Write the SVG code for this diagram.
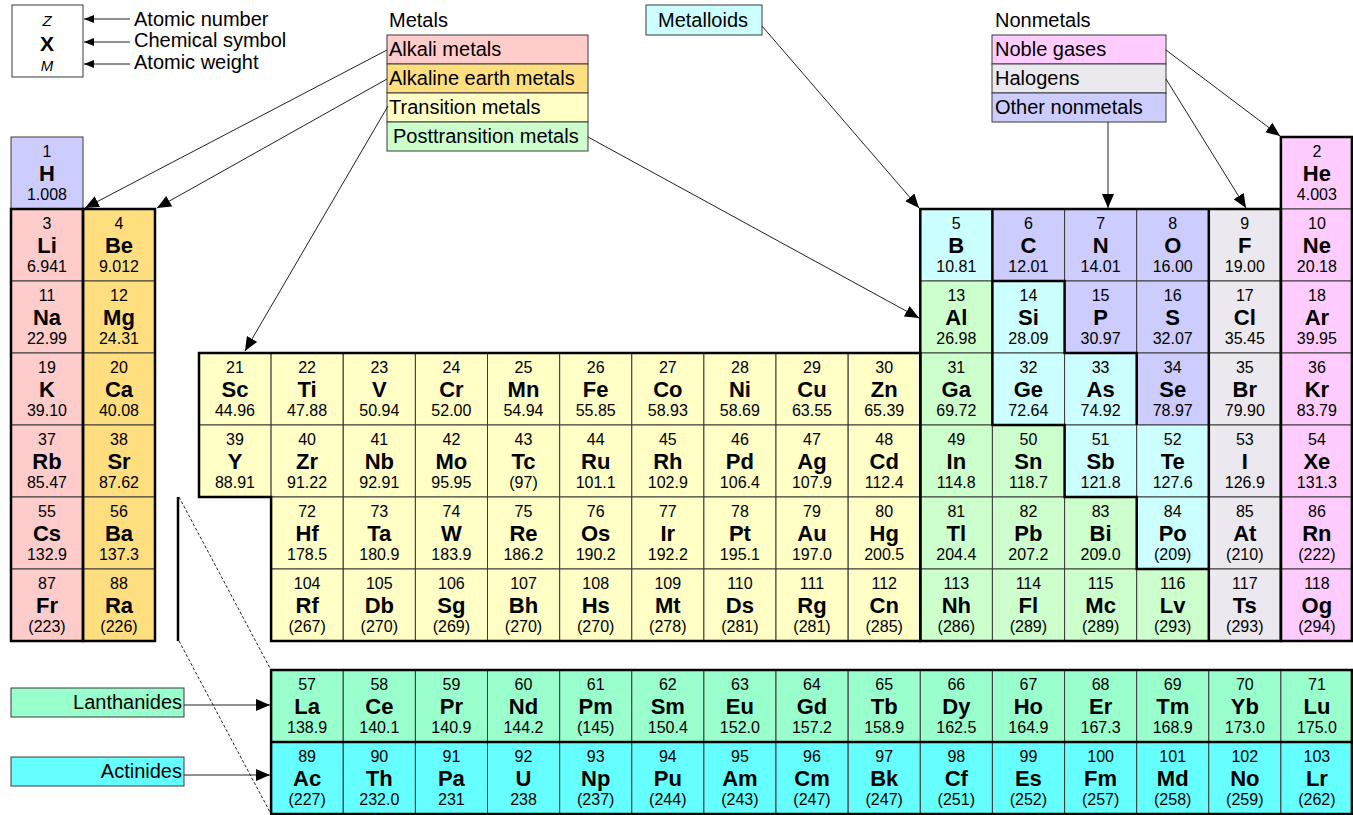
<svg xmlns="http://www.w3.org/2000/svg" width="1353" height="815" viewBox="0 0 1353 815">
<defs>
<style>
text{font-family:"Liberation Sans",Arial,sans-serif;fill:#000}
.cell rect{stroke:#3a3a3a;stroke-width:1}
.cell text{text-anchor:middle}
.n{font-size:16px}
.s{font-size:22px;font-weight:bold}
.w{font-size:16px}
.lg{font-size:20px}
.alk rect,rect.alk{fill:#ffcccc}
.ae rect,rect.ae{fill:#ffde80}
.tm rect,rect.tm{fill:#ffffc6}
.pt rect,rect.pt{fill:#ccffcc}
.ml rect,rect.ml{fill:#ccffff}
.nm rect,rect.nm{fill:#ccccff}
.hal rect,rect.hal{fill:#ebe8ef}
.ng rect,rect.ng{fill:#ffccff}
.la rect,rect.la{fill:#99ffcc}
.ac rect,rect.ac{fill:#66ffff}
.box{stroke:#3a3a3a;stroke-width:1}
.thick{fill:none;stroke:#000;stroke-width:2.5;stroke-linejoin:miter}
.con{fill:none;stroke:#222;stroke-width:1}
</style>
<marker id="arr" viewBox="0 0 14 12" refX="14" refY="6" markerWidth="14" markerHeight="12" markerUnits="userSpaceOnUse" orient="auto"><path d="M0,0 L14,6 L0,12 z" fill="#000"/></marker>
<marker id="sarr" viewBox="0 0 10 8" refX="10" refY="4" markerWidth="10" markerHeight="8" markerUnits="userSpaceOnUse" orient="auto"><path d="M0,0 L10,4 L0,8 z" fill="#000"/></marker>
</defs>
<rect width="1353" height="815" fill="#fff"/>

<g id="key">
<rect x="12" y="5" width="71" height="72" fill="#fff" class="box"/>
<text x="47" y="26" font-size="15" font-style="italic" text-anchor="middle">Z</text>
<text x="47" y="51" font-size="21" font-weight="bold" text-anchor="middle">X</text>
<text x="47" y="71" font-size="15" font-style="italic" text-anchor="middle">M</text>
<text x="134" y="26" class="lg">Atomic number</text>
<text x="134" y="47" class="lg">Chemical symbol</text>
<text x="134" y="69" class="lg">Atomic weight</text>
</g>

<g id="legend-metals">
<text x="389" y="27" class="lg">Metals</text>
<rect x="387" y="35" width="201" height="29" class="box alk"/>
<text x="389" y="56" class="lg">Alkali metals</text>
<rect x="387" y="64" width="201" height="29" class="box ae"/>
<text x="389" y="85" class="lg">Alkaline earth metals</text>
<rect x="387" y="93" width="201" height="29" class="box tm"/>
<text x="389" y="114" class="lg">Transition metals</text>
<rect x="387" y="122" width="201" height="29" class="box pt"/>
<text x="393" y="143" class="lg">Posttransition metals</text>
</g>
<g id="legend-metalloids">
<rect x="646" y="5" width="116" height="30" class="box ml"/>
<text x="658" y="27" class="lg">Metalloids</text>
</g>
<g id="legend-nonmetals">
<text x="995" y="27" class="lg">Nonmetals</text>
<rect x="992" y="35" width="174" height="29" class="box ng"/>
<text x="995" y="56" class="lg">Noble gases</text>
<rect x="992" y="64" width="174" height="29" class="box hal"/>
<text x="995" y="85" class="lg">Halogens</text>
<rect x="992" y="93" width="174" height="29" class="box nm"/>
<text x="995" y="114" class="lg">Other nonmetals</text>
</g>
<g id="legend-lanthanides">
<rect x="11" y="688" width="173" height="29" class="box la"/>
<text x="182" y="709" class="lg" text-anchor="end">Lanthanides</text>
</g>
<g id="legend-actinides">
<rect x="11" y="757" width="173" height="29" class="box ac"/>
<text x="182" y="778" class="lg" text-anchor="end">Actinides</text>
</g>

<g id="cells">
<g id="H" class="cell nm" transform="translate(11,137)"><rect width="72" height="72"/><text x="36" y="20" class="n">1</text><text x="36" y="44" class="s">H</text><text x="36" y="63" class="w">1.008</text></g>
<g id="He" class="cell ng" transform="translate(1280.9,137)"><rect width="72.1" height="72"/><text x="36" y="20" class="n">2</text><text x="36" y="44" class="s">He</text><text x="36" y="63" class="w">4.003</text></g>

<g id="Li" class="cell alk" transform="translate(11,209)"><rect width="72" height="72"/><text x="36" y="20" class="n">3</text><text x="36" y="44" class="s">Li</text><text x="36" y="63" class="w">6.941</text></g>
<g id="Be" class="cell ae" transform="translate(83,209)"><rect width="72" height="72"/><text x="36" y="20" class="n">4</text><text x="36" y="44" class="s">Be</text><text x="36" y="63" class="w">9.012</text></g>
<g id="B" class="cell ml" transform="translate(920.3,209)"><rect width="72.1" height="72"/><text x="36" y="20" class="n">5</text><text x="36" y="44" class="s">B</text><text x="36" y="63" class="w">10.81</text></g>
<g id="C" class="cell nm" transform="translate(992.4,209)"><rect width="72.1" height="72"/><text x="36" y="20" class="n">6</text><text x="36" y="44" class="s">C</text><text x="36" y="63" class="w">12.01</text></g>
<g id="N" class="cell nm" transform="translate(1064.6,209)"><rect width="72.1" height="72"/><text x="36" y="20" class="n">7</text><text x="36" y="44" class="s">N</text><text x="36" y="63" class="w">14.01</text></g>
<g id="O" class="cell nm" transform="translate(1136.7,209)"><rect width="72.1" height="72"/><text x="36" y="20" class="n">8</text><text x="36" y="44" class="s">O</text><text x="36" y="63" class="w">16.00</text></g>
<g id="F" class="cell hal" transform="translate(1208.8,209)"><rect width="72.1" height="72"/><text x="36" y="20" class="n">9</text><text x="36" y="44" class="s">F</text><text x="36" y="63" class="w">19.00</text></g>
<g id="Ne" class="cell ng" transform="translate(1280.9,209)"><rect width="72.1" height="72"/><text x="36" y="20" class="n">10</text><text x="36" y="44" class="s">Ne</text><text x="36" y="63" class="w">20.18</text></g>

<g id="Na" class="cell alk" transform="translate(11,281)"><rect width="72" height="72"/><text x="36" y="20" class="n">11</text><text x="36" y="44" class="s">Na</text><text x="36" y="63" class="w">22.99</text></g>
<g id="Mg" class="cell ae" transform="translate(83,281)"><rect width="72" height="72"/><text x="36" y="20" class="n">12</text><text x="36" y="44" class="s">Mg</text><text x="36" y="63" class="w">24.31</text></g>
<g id="Al" class="cell pt" transform="translate(920.3,281)"><rect width="72.1" height="72"/><text x="36" y="20" class="n">13</text><text x="36" y="44" class="s">Al</text><text x="36" y="63" class="w">26.98</text></g>
<g id="Si" class="cell ml" transform="translate(992.4,281)"><rect width="72.1" height="72"/><text x="36" y="20" class="n">14</text><text x="36" y="44" class="s">Si</text><text x="36" y="63" class="w">28.09</text></g>
<g id="P" class="cell nm" transform="translate(1064.6,281)"><rect width="72.1" height="72"/><text x="36" y="20" class="n">15</text><text x="36" y="44" class="s">P</text><text x="36" y="63" class="w">30.97</text></g>
<g id="S" class="cell nm" transform="translate(1136.7,281)"><rect width="72.1" height="72"/><text x="36" y="20" class="n">16</text><text x="36" y="44" class="s">S</text><text x="36" y="63" class="w">32.07</text></g>
<g id="Cl" class="cell hal" transform="translate(1208.8,281)"><rect width="72.1" height="72"/><text x="36" y="20" class="n">17</text><text x="36" y="44" class="s">Cl</text><text x="36" y="63" class="w">35.45</text></g>
<g id="Ar" class="cell ng" transform="translate(1280.9,281)"><rect width="72.1" height="72"/><text x="36" y="20" class="n">18</text><text x="36" y="44" class="s">Ar</text><text x="36" y="63" class="w">39.95</text></g>

<g id="K" class="cell alk" transform="translate(11,353)"><rect width="72" height="72"/><text x="36" y="20" class="n">19</text><text x="36" y="44" class="s">K</text><text x="36" y="63" class="w">39.10</text></g>
<g id="Ca" class="cell ae" transform="translate(83,353)"><rect width="72" height="72"/><text x="36" y="20" class="n">20</text><text x="36" y="44" class="s">Ca</text><text x="36" y="63" class="w">40.08</text></g>
<g id="Sc" class="cell tm" transform="translate(199,353)"><rect width="72.1" height="72"/><text x="36" y="20" class="n">21</text><text x="36" y="44" class="s">Sc</text><text x="36" y="63" class="w">44.96</text></g>
<g id="Ti" class="cell tm" transform="translate(271.1,353)"><rect width="72.1" height="72"/><text x="36" y="20" class="n">22</text><text x="36" y="44" class="s">Ti</text><text x="36" y="63" class="w">47.88</text></g>
<g id="V" class="cell tm" transform="translate(343.3,353)"><rect width="72.1" height="72"/><text x="36" y="20" class="n">23</text><text x="36" y="44" class="s">V</text><text x="36" y="63" class="w">50.94</text></g>
<g id="Cr" class="cell tm" transform="translate(415.4,353)"><rect width="72.1" height="72"/><text x="36" y="20" class="n">24</text><text x="36" y="44" class="s">Cr</text><text x="36" y="63" class="w">52.00</text></g>
<g id="Mn" class="cell tm" transform="translate(487.5,353)"><rect width="72.1" height="72"/><text x="36" y="20" class="n">25</text><text x="36" y="44" class="s">Mn</text><text x="36" y="63" class="w">54.94</text></g>
<g id="Fe" class="cell tm" transform="translate(559.7,353)"><rect width="72.1" height="72"/><text x="36" y="20" class="n">26</text><text x="36" y="44" class="s">Fe</text><text x="36" y="63" class="w">55.85</text></g>
<g id="Co" class="cell tm" transform="translate(631.8,353)"><rect width="72.1" height="72"/><text x="36" y="20" class="n">27</text><text x="36" y="44" class="s">Co</text><text x="36" y="63" class="w">58.93</text></g>
<g id="Ni" class="cell tm" transform="translate(703.9,353)"><rect width="72.1" height="72"/><text x="36" y="20" class="n">28</text><text x="36" y="44" class="s">Ni</text><text x="36" y="63" class="w">58.69</text></g>
<g id="Cu" class="cell tm" transform="translate(776,353)"><rect width="72.1" height="72"/><text x="36" y="20" class="n">29</text><text x="36" y="44" class="s">Cu</text><text x="36" y="63" class="w">63.55</text></g>
<g id="Zn" class="cell tm" transform="translate(848.2,353)"><rect width="72.1" height="72"/><text x="36" y="20" class="n">30</text><text x="36" y="44" class="s">Zn</text><text x="36" y="63" class="w">65.39</text></g>
<g id="Ga" class="cell pt" transform="translate(920.3,353)"><rect width="72.1" height="72"/><text x="36" y="20" class="n">31</text><text x="36" y="44" class="s">Ga</text><text x="36" y="63" class="w">69.72</text></g>
<g id="Ge" class="cell ml" transform="translate(992.4,353)"><rect width="72.1" height="72"/><text x="36" y="20" class="n">32</text><text x="36" y="44" class="s">Ge</text><text x="36" y="63" class="w">72.64</text></g>
<g id="As" class="cell ml" transform="translate(1064.6,353)"><rect width="72.1" height="72"/><text x="36" y="20" class="n">33</text><text x="36" y="44" class="s">As</text><text x="36" y="63" class="w">74.92</text></g>
<g id="Se" class="cell nm" transform="translate(1136.7,353)"><rect width="72.1" height="72"/><text x="36" y="20" class="n">34</text><text x="36" y="44" class="s">Se</text><text x="36" y="63" class="w">78.97</text></g>
<g id="Br" class="cell hal" transform="translate(1208.8,353)"><rect width="72.1" height="72"/><text x="36" y="20" class="n">35</text><text x="36" y="44" class="s">Br</text><text x="36" y="63" class="w">79.90</text></g>
<g id="Kr" class="cell ng" transform="translate(1280.9,353)"><rect width="72.1" height="72"/><text x="36" y="20" class="n">36</text><text x="36" y="44" class="s">Kr</text><text x="36" y="63" class="w">83.79</text></g>

<g id="Rb" class="cell alk" transform="translate(11,425)"><rect width="72" height="72"/><text x="36" y="20" class="n">37</text><text x="36" y="44" class="s">Rb</text><text x="36" y="63" class="w">85.47</text></g>
<g id="Sr" class="cell ae" transform="translate(83,425)"><rect width="72" height="72"/><text x="36" y="20" class="n">38</text><text x="36" y="44" class="s">Sr</text><text x="36" y="63" class="w">87.62</text></g>
<g id="Y" class="cell tm" transform="translate(199,425)"><rect width="72.1" height="72"/><text x="36" y="20" class="n">39</text><text x="36" y="44" class="s">Y</text><text x="36" y="63" class="w">88.91</text></g>
<g id="Zr" class="cell tm" transform="translate(271.1,425)"><rect width="72.1" height="72"/><text x="36" y="20" class="n">40</text><text x="36" y="44" class="s">Zr</text><text x="36" y="63" class="w">91.22</text></g>
<g id="Nb" class="cell tm" transform="translate(343.3,425)"><rect width="72.1" height="72"/><text x="36" y="20" class="n">41</text><text x="36" y="44" class="s">Nb</text><text x="36" y="63" class="w">92.91</text></g>
<g id="Mo" class="cell tm" transform="translate(415.4,425)"><rect width="72.1" height="72"/><text x="36" y="20" class="n">42</text><text x="36" y="44" class="s">Mo</text><text x="36" y="63" class="w">95.95</text></g>
<g id="Tc" class="cell tm" transform="translate(487.5,425)"><rect width="72.1" height="72"/><text x="36" y="20" class="n">43</text><text x="36" y="44" class="s">Tc</text><text x="36" y="63" class="w">(97)</text></g>
<g id="Ru" class="cell tm" transform="translate(559.7,425)"><rect width="72.1" height="72"/><text x="36" y="20" class="n">44</text><text x="36" y="44" class="s">Ru</text><text x="36" y="63" class="w">101.1</text></g>
<g id="Rh" class="cell tm" transform="translate(631.8,425)"><rect width="72.1" height="72"/><text x="36" y="20" class="n">45</text><text x="36" y="44" class="s">Rh</text><text x="36" y="63" class="w">102.9</text></g>
<g id="Pd" class="cell tm" transform="translate(703.9,425)"><rect width="72.1" height="72"/><text x="36" y="20" class="n">46</text><text x="36" y="44" class="s">Pd</text><text x="36" y="63" class="w">106.4</text></g>
<g id="Ag" class="cell tm" transform="translate(776,425)"><rect width="72.1" height="72"/><text x="36" y="20" class="n">47</text><text x="36" y="44" class="s">Ag</text><text x="36" y="63" class="w">107.9</text></g>
<g id="Cd" class="cell tm" transform="translate(848.2,425)"><rect width="72.1" height="72"/><text x="36" y="20" class="n">48</text><text x="36" y="44" class="s">Cd</text><text x="36" y="63" class="w">112.4</text></g>
<g id="In" class="cell pt" transform="translate(920.3,425)"><rect width="72.1" height="72"/><text x="36" y="20" class="n">49</text><text x="36" y="44" class="s">In</text><text x="36" y="63" class="w">114.8</text></g>
<g id="Sn" class="cell pt" transform="translate(992.4,425)"><rect width="72.1" height="72"/><text x="36" y="20" class="n">50</text><text x="36" y="44" class="s">Sn</text><text x="36" y="63" class="w">118.7</text></g>
<g id="Sb" class="cell ml" transform="translate(1064.6,425)"><rect width="72.1" height="72"/><text x="36" y="20" class="n">51</text><text x="36" y="44" class="s">Sb</text><text x="36" y="63" class="w">121.8</text></g>
<g id="Te" class="cell ml" transform="translate(1136.7,425)"><rect width="72.1" height="72"/><text x="36" y="20" class="n">52</text><text x="36" y="44" class="s">Te</text><text x="36" y="63" class="w">127.6</text></g>
<g id="I" class="cell hal" transform="translate(1208.8,425)"><rect width="72.1" height="72"/><text x="36" y="20" class="n">53</text><text x="36" y="44" class="s">I</text><text x="36" y="63" class="w">126.9</text></g>
<g id="Xe" class="cell ng" transform="translate(1280.9,425)"><rect width="72.1" height="72"/><text x="36" y="20" class="n">54</text><text x="36" y="44" class="s">Xe</text><text x="36" y="63" class="w">131.3</text></g>

<g id="Cs" class="cell alk" transform="translate(11,497)"><rect width="72" height="72"/><text x="36" y="20" class="n">55</text><text x="36" y="44" class="s">Cs</text><text x="36" y="63" class="w">132.9</text></g>
<g id="Ba" class="cell ae" transform="translate(83,497)"><rect width="72" height="72"/><text x="36" y="20" class="n">56</text><text x="36" y="44" class="s">Ba</text><text x="36" y="63" class="w">137.3</text></g>
<g id="Hf" class="cell tm" transform="translate(271.1,497)"><rect width="72.1" height="72"/><text x="36" y="20" class="n">72</text><text x="36" y="44" class="s">Hf</text><text x="36" y="63" class="w">178.5</text></g>
<g id="Ta" class="cell tm" transform="translate(343.3,497)"><rect width="72.1" height="72"/><text x="36" y="20" class="n">73</text><text x="36" y="44" class="s">Ta</text><text x="36" y="63" class="w">180.9</text></g>
<g id="W" class="cell tm" transform="translate(415.4,497)"><rect width="72.1" height="72"/><text x="36" y="20" class="n">74</text><text x="36" y="44" class="s">W</text><text x="36" y="63" class="w">183.9</text></g>
<g id="Re" class="cell tm" transform="translate(487.5,497)"><rect width="72.1" height="72"/><text x="36" y="20" class="n">75</text><text x="36" y="44" class="s">Re</text><text x="36" y="63" class="w">186.2</text></g>
<g id="Os" class="cell tm" transform="translate(559.7,497)"><rect width="72.1" height="72"/><text x="36" y="20" class="n">76</text><text x="36" y="44" class="s">Os</text><text x="36" y="63" class="w">190.2</text></g>
<g id="Ir" class="cell tm" transform="translate(631.8,497)"><rect width="72.1" height="72"/><text x="36" y="20" class="n">77</text><text x="36" y="44" class="s">Ir</text><text x="36" y="63" class="w">192.2</text></g>
<g id="Pt" class="cell tm" transform="translate(703.9,497)"><rect width="72.1" height="72"/><text x="36" y="20" class="n">78</text><text x="36" y="44" class="s">Pt</text><text x="36" y="63" class="w">195.1</text></g>
<g id="Au" class="cell tm" transform="translate(776,497)"><rect width="72.1" height="72"/><text x="36" y="20" class="n">79</text><text x="36" y="44" class="s">Au</text><text x="36" y="63" class="w">197.0</text></g>
<g id="Hg" class="cell tm" transform="translate(848.2,497)"><rect width="72.1" height="72"/><text x="36" y="20" class="n">80</text><text x="36" y="44" class="s">Hg</text><text x="36" y="63" class="w">200.5</text></g>
<g id="Tl" class="cell pt" transform="translate(920.3,497)"><rect width="72.1" height="72"/><text x="36" y="20" class="n">81</text><text x="36" y="44" class="s">Tl</text><text x="36" y="63" class="w">204.4</text></g>
<g id="Pb" class="cell pt" transform="translate(992.4,497)"><rect width="72.1" height="72"/><text x="36" y="20" class="n">82</text><text x="36" y="44" class="s">Pb</text><text x="36" y="63" class="w">207.2</text></g>
<g id="Bi" class="cell pt" transform="translate(1064.6,497)"><rect width="72.1" height="72"/><text x="36" y="20" class="n">83</text><text x="36" y="44" class="s">Bi</text><text x="36" y="63" class="w">209.0</text></g>
<g id="Po" class="cell ml" transform="translate(1136.7,497)"><rect width="72.1" height="72"/><text x="36" y="20" class="n">84</text><text x="36" y="44" class="s">Po</text><text x="36" y="63" class="w">(209)</text></g>
<g id="At" class="cell hal" transform="translate(1208.8,497)"><rect width="72.1" height="72"/><text x="36" y="20" class="n">85</text><text x="36" y="44" class="s">At</text><text x="36" y="63" class="w">(210)</text></g>
<g id="Rn" class="cell ng" transform="translate(1280.9,497)"><rect width="72.1" height="72"/><text x="36" y="20" class="n">86</text><text x="36" y="44" class="s">Rn</text><text x="36" y="63" class="w">(222)</text></g>

<g id="Fr" class="cell alk" transform="translate(11,569)"><rect width="72" height="72"/><text x="36" y="20" class="n">87</text><text x="36" y="44" class="s">Fr</text><text x="36" y="63" class="w">(223)</text></g>
<g id="Ra" class="cell ae" transform="translate(83,569)"><rect width="72" height="72"/><text x="36" y="20" class="n">88</text><text x="36" y="44" class="s">Ra</text><text x="36" y="63" class="w">(226)</text></g>
<g id="Rf" class="cell tm" transform="translate(271.1,569)"><rect width="72.1" height="72"/><text x="36" y="20" class="n">104</text><text x="36" y="44" class="s">Rf</text><text x="36" y="63" class="w">(267)</text></g>
<g id="Db" class="cell tm" transform="translate(343.3,569)"><rect width="72.1" height="72"/><text x="36" y="20" class="n">105</text><text x="36" y="44" class="s">Db</text><text x="36" y="63" class="w">(270)</text></g>
<g id="Sg" class="cell tm" transform="translate(415.4,569)"><rect width="72.1" height="72"/><text x="36" y="20" class="n">106</text><text x="36" y="44" class="s">Sg</text><text x="36" y="63" class="w">(269)</text></g>
<g id="Bh" class="cell tm" transform="translate(487.5,569)"><rect width="72.1" height="72"/><text x="36" y="20" class="n">107</text><text x="36" y="44" class="s">Bh</text><text x="36" y="63" class="w">(270)</text></g>
<g id="Hs" class="cell tm" transform="translate(559.7,569)"><rect width="72.1" height="72"/><text x="36" y="20" class="n">108</text><text x="36" y="44" class="s">Hs</text><text x="36" y="63" class="w">(270)</text></g>
<g id="Mt" class="cell tm" transform="translate(631.8,569)"><rect width="72.1" height="72"/><text x="36" y="20" class="n">109</text><text x="36" y="44" class="s">Mt</text><text x="36" y="63" class="w">(278)</text></g>
<g id="Ds" class="cell tm" transform="translate(703.9,569)"><rect width="72.1" height="72"/><text x="36" y="20" class="n">110</text><text x="36" y="44" class="s">Ds</text><text x="36" y="63" class="w">(281)</text></g>
<g id="Rg" class="cell tm" transform="translate(776,569)"><rect width="72.1" height="72"/><text x="36" y="20" class="n">111</text><text x="36" y="44" class="s">Rg</text><text x="36" y="63" class="w">(281)</text></g>
<g id="Cn" class="cell tm" transform="translate(848.2,569)"><rect width="72.1" height="72"/><text x="36" y="20" class="n">112</text><text x="36" y="44" class="s">Cn</text><text x="36" y="63" class="w">(285)</text></g>
<g id="Nh" class="cell pt" transform="translate(920.3,569)"><rect width="72.1" height="72"/><text x="36" y="20" class="n">113</text><text x="36" y="44" class="s">Nh</text><text x="36" y="63" class="w">(286)</text></g>
<g id="Fl" class="cell pt" transform="translate(992.4,569)"><rect width="72.1" height="72"/><text x="36" y="20" class="n">114</text><text x="36" y="44" class="s">Fl</text><text x="36" y="63" class="w">(289)</text></g>
<g id="Mc" class="cell pt" transform="translate(1064.6,569)"><rect width="72.1" height="72"/><text x="36" y="20" class="n">115</text><text x="36" y="44" class="s">Mc</text><text x="36" y="63" class="w">(289)</text></g>
<g id="Lv" class="cell pt" transform="translate(1136.7,569)"><rect width="72.1" height="72"/><text x="36" y="20" class="n">116</text><text x="36" y="44" class="s">Lv</text><text x="36" y="63" class="w">(293)</text></g>
<g id="Ts" class="cell hal" transform="translate(1208.8,569)"><rect width="72.1" height="72"/><text x="36" y="20" class="n">117</text><text x="36" y="44" class="s">Ts</text><text x="36" y="63" class="w">(293)</text></g>
<g id="Og" class="cell ng" transform="translate(1280.9,569)"><rect width="72.1" height="72"/><text x="36" y="20" class="n">118</text><text x="36" y="44" class="s">Og</text><text x="36" y="63" class="w">(294)</text></g>

<g id="La" class="cell la" transform="translate(271.1,670)"><rect width="72.1" height="72"/><text x="36" y="20" class="n">57</text><text x="36" y="44" class="s">La</text><text x="36" y="63" class="w">138.9</text></g>
<g id="Ce" class="cell la" transform="translate(343.3,670)"><rect width="72.1" height="72"/><text x="36" y="20" class="n">58</text><text x="36" y="44" class="s">Ce</text><text x="36" y="63" class="w">140.1</text></g>
<g id="Pr" class="cell la" transform="translate(415.4,670)"><rect width="72.1" height="72"/><text x="36" y="20" class="n">59</text><text x="36" y="44" class="s">Pr</text><text x="36" y="63" class="w">140.9</text></g>
<g id="Nd" class="cell la" transform="translate(487.5,670)"><rect width="72.1" height="72"/><text x="36" y="20" class="n">60</text><text x="36" y="44" class="s">Nd</text><text x="36" y="63" class="w">144.2</text></g>
<g id="Pm" class="cell la" transform="translate(559.7,670)"><rect width="72.1" height="72"/><text x="36" y="20" class="n">61</text><text x="36" y="44" class="s">Pm</text><text x="36" y="63" class="w">(145)</text></g>
<g id="Sm" class="cell la" transform="translate(631.8,670)"><rect width="72.1" height="72"/><text x="36" y="20" class="n">62</text><text x="36" y="44" class="s">Sm</text><text x="36" y="63" class="w">150.4</text></g>
<g id="Eu" class="cell la" transform="translate(703.9,670)"><rect width="72.1" height="72"/><text x="36" y="20" class="n">63</text><text x="36" y="44" class="s">Eu</text><text x="36" y="63" class="w">152.0</text></g>
<g id="Gd" class="cell la" transform="translate(776,670)"><rect width="72.1" height="72"/><text x="36" y="20" class="n">64</text><text x="36" y="44" class="s">Gd</text><text x="36" y="63" class="w">157.2</text></g>
<g id="Tb" class="cell la" transform="translate(848.2,670)"><rect width="72.1" height="72"/><text x="36" y="20" class="n">65</text><text x="36" y="44" class="s">Tb</text><text x="36" y="63" class="w">158.9</text></g>
<g id="Dy" class="cell la" transform="translate(920.3,670)"><rect width="72.1" height="72"/><text x="36" y="20" class="n">66</text><text x="36" y="44" class="s">Dy</text><text x="36" y="63" class="w">162.5</text></g>
<g id="Ho" class="cell la" transform="translate(992.4,670)"><rect width="72.1" height="72"/><text x="36" y="20" class="n">67</text><text x="36" y="44" class="s">Ho</text><text x="36" y="63" class="w">164.9</text></g>
<g id="Er" class="cell la" transform="translate(1064.6,670)"><rect width="72.1" height="72"/><text x="36" y="20" class="n">68</text><text x="36" y="44" class="s">Er</text><text x="36" y="63" class="w">167.3</text></g>
<g id="Tm" class="cell la" transform="translate(1136.7,670)"><rect width="72.1" height="72"/><text x="36" y="20" class="n">69</text><text x="36" y="44" class="s">Tm</text><text x="36" y="63" class="w">168.9</text></g>
<g id="Yb" class="cell la" transform="translate(1208.8,670)"><rect width="72.1" height="72"/><text x="36" y="20" class="n">70</text><text x="36" y="44" class="s">Yb</text><text x="36" y="63" class="w">173.0</text></g>
<g id="Lu" class="cell la" transform="translate(1280.9,670)"><rect width="72.1" height="72"/><text x="36" y="20" class="n">71</text><text x="36" y="44" class="s">Lu</text><text x="36" y="63" class="w">175.0</text></g>

<g id="Ac" class="cell ac" transform="translate(271.1,742)"><rect width="72.1" height="72"/><text x="36" y="20" class="n">89</text><text x="36" y="44" class="s">Ac</text><text x="36" y="63" class="w">(227)</text></g>
<g id="Th" class="cell ac" transform="translate(343.3,742)"><rect width="72.1" height="72"/><text x="36" y="20" class="n">90</text><text x="36" y="44" class="s">Th</text><text x="36" y="63" class="w">232.0</text></g>
<g id="Pa" class="cell ac" transform="translate(415.4,742)"><rect width="72.1" height="72"/><text x="36" y="20" class="n">91</text><text x="36" y="44" class="s">Pa</text><text x="36" y="63" class="w">231</text></g>
<g id="U" class="cell ac" transform="translate(487.5,742)"><rect width="72.1" height="72"/><text x="36" y="20" class="n">92</text><text x="36" y="44" class="s">U</text><text x="36" y="63" class="w">238</text></g>
<g id="Np" class="cell ac" transform="translate(559.7,742)"><rect width="72.1" height="72"/><text x="36" y="20" class="n">93</text><text x="36" y="44" class="s">Np</text><text x="36" y="63" class="w">(237)</text></g>
<g id="Pu" class="cell ac" transform="translate(631.8,742)"><rect width="72.1" height="72"/><text x="36" y="20" class="n">94</text><text x="36" y="44" class="s">Pu</text><text x="36" y="63" class="w">(244)</text></g>
<g id="Am" class="cell ac" transform="translate(703.9,742)"><rect width="72.1" height="72"/><text x="36" y="20" class="n">95</text><text x="36" y="44" class="s">Am</text><text x="36" y="63" class="w">(243)</text></g>
<g id="Cm" class="cell ac" transform="translate(776,742)"><rect width="72.1" height="72"/><text x="36" y="20" class="n">96</text><text x="36" y="44" class="s">Cm</text><text x="36" y="63" class="w">(247)</text></g>
<g id="Bk" class="cell ac" transform="translate(848.2,742)"><rect width="72.1" height="72"/><text x="36" y="20" class="n">97</text><text x="36" y="44" class="s">Bk</text><text x="36" y="63" class="w">(247)</text></g>
<g id="Cf" class="cell ac" transform="translate(920.3,742)"><rect width="72.1" height="72"/><text x="36" y="20" class="n">98</text><text x="36" y="44" class="s">Cf</text><text x="36" y="63" class="w">(251)</text></g>
<g id="Es" class="cell ac" transform="translate(992.4,742)"><rect width="72.1" height="72"/><text x="36" y="20" class="n">99</text><text x="36" y="44" class="s">Es</text><text x="36" y="63" class="w">(252)</text></g>
<g id="Fm" class="cell ac" transform="translate(1064.6,742)"><rect width="72.1" height="72"/><text x="36" y="20" class="n">100</text><text x="36" y="44" class="s">Fm</text><text x="36" y="63" class="w">(257)</text></g>
<g id="Md" class="cell ac" transform="translate(1136.7,742)"><rect width="72.1" height="72"/><text x="36" y="20" class="n">101</text><text x="36" y="44" class="s">Md</text><text x="36" y="63" class="w">(258)</text></g>
<g id="No" class="cell ac" transform="translate(1208.8,742)"><rect width="72.1" height="72"/><text x="36" y="20" class="n">102</text><text x="36" y="44" class="s">No</text><text x="36" y="63" class="w">(259)</text></g>
<g id="Lr" class="cell ac" transform="translate(1280.9,742)"><rect width="72.1" height="72"/><text x="36" y="20" class="n">103</text><text x="36" y="44" class="s">Lr</text><text x="36" y="63" class="w">(262)</text></g>
</g>

<g id="outlines">
<rect x="11" y="209" width="72" height="432" class="thick"/>
<rect x="83" y="209" width="72" height="432" class="thick"/>
<path d="M199,353 H920.3 V641 H271.1 V497 H199 Z" class="thick"/>
<rect x="920.3" y="209" width="360.6" height="432" class="thick"/>
<path d="M1208.8,209 V641" class="thick"/>
<rect x="1280.9" y="137" width="71" height="504" class="thick"/>
<path d="M992.4,209 V425 H1064.6 V497 H1136.7 V569 H1208.8" class="thick"/>
<path d="M992.4,281 H1064.6 V353 H1136.7 V425" class="thick"/>
<rect x="271.1" y="670" width="1080.8" height="144" class="thick"/>
<path d="M271.1,742 H1352" class="thick"/>
<path d="M178,497 V641" class="thick"/>
</g>

<g id="connectors">
<path d="M130,19 H84" class="con" marker-end="url(#sarr)"/>
<path d="M130,42 H84" class="con" marker-end="url(#sarr)"/>
<path d="M130,64 H84" class="con" marker-end="url(#sarr)"/>
<path d="M387,50 L85,208" class="con" marker-end="url(#arr)"/>
<path d="M387,79 L157,208" class="con" marker-end="url(#arr)"/>
<path d="M388,106 L245,351" class="con" marker-end="url(#arr)"/>
<path d="M588,137 L919,318" class="con" marker-end="url(#arr)"/>
<path d="M762,26 L919,208" class="con" marker-end="url(#arr)"/>
<path d="M1166,50 L1280,136" class="con" marker-end="url(#arr)"/>
<path d="M1166,79 L1246,208" class="con" marker-end="url(#arr)"/>
<path d="M1108,122 V208" class="con" stroke="#555" marker-end="url(#arr)"/>
<path d="M184,705 H270" class="con" marker-end="url(#arr)"/>
<path d="M184,775 H270" class="con" marker-end="url(#arr)"/>
<path d="M179,497 L271,670" class="con" stroke-dasharray="3,2"/>
<path d="M179,641 L271,814" class="con" stroke-dasharray="3,2"/>
</g>
</svg>
